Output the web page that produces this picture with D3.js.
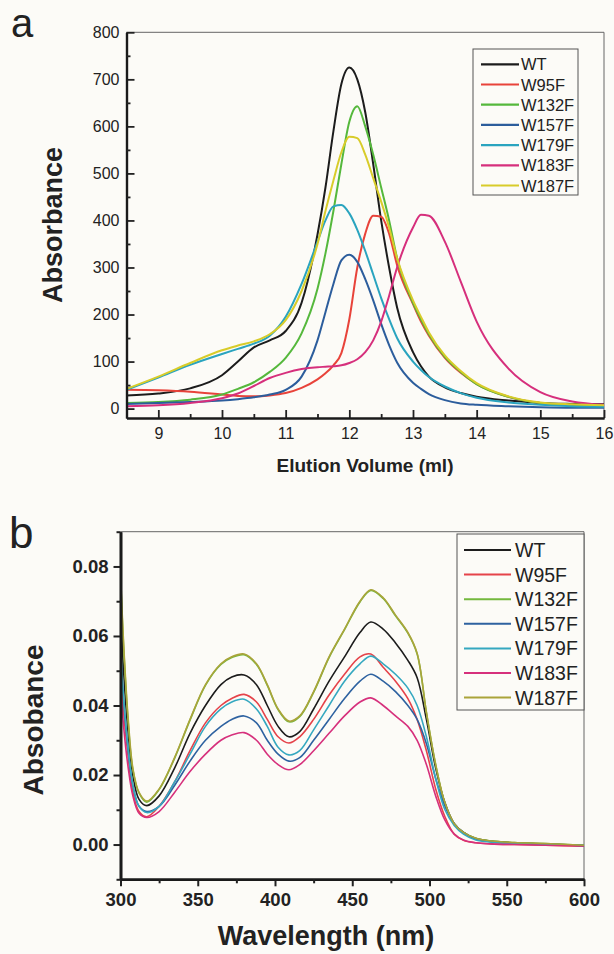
<!DOCTYPE html>
<html>
<head>
<meta charset="utf-8">
<title>SEC and absorbance spectra</title>
<script src="https://cdn.jsdelivr.net/npm/d3@7"></script>
<style>
  body { margin: 0; background: #fcfbf7; }
  text { font-family: "Liberation Sans", Arial, sans-serif; fill: #222; }
  .tick line { stroke: #222; }
</style>
</head>
<body>
<script>
// ---- data ----
var seriesNames = ["WT", "W95F", "W132F", "W157F", "W179F", "W183F", "W187F"];
var colorsA = ["#1c1c1c", "#e8433a", "#55b83c", "#2c5d9c", "#2aa4bf", "#d62f7c", "#d8cc2a"];
var colorsB = ["#1c1c1c", "#e5434a", "#74b83e", "#2e62a0", "#35a8c0", "#d6307c", "#aaa43a"];

// panel a: elution volume (ml)
var elutionVol = [8.5, 9, 9.5, 10, 10.25, 10.5, 10.75, 11, 11.25, 11.5, 11.625, 11.75, 11.875, 12, 12.125,
  12.25, 12.375, 12.5, 12.625, 12.75, 13, 13.125, 13.25, 13.5, 13.75, 14, 14.5, 15, 15.5, 16];
var secWT    = [28, 32, 43, 71, 100, 130, 145, 165, 225, 370, 470, 590, 690, 725, 700, 630, 520, 400, 300, 215, 120, 90, 68, 45, 33, 25, 17, 12, 10, 9];
var secW95F  = [40, 39, 36, 30, 27, 26, 28, 33, 44, 62, 75, 92, 118, 190, 300, 372, 410, 408, 372, 305, 222, 185, 155, 108, 76, 52, 25, 12, 7, 5];
var secW132F = [12, 14, 19, 30, 42, 56, 78, 108, 160, 255, 330, 420, 520, 610, 643, 600, 540, 470, 400, 320, 225, 190, 158, 110, 78, 52, 25, 12, 8, 6];
var secW157F = [10, 12, 14, 17, 20, 24, 30, 40, 68, 145, 205, 265, 315, 327, 312, 275, 230, 180, 135, 98, 55, 42, 31, 18, 11, 8, 5, 3, 2, 2];
var secW179F = [40, 66, 93, 116, 127, 138, 155, 195, 265, 355, 400, 430, 433, 415, 380, 335, 285, 235, 190, 150, 100, 82, 67, 47, 33, 23, 13, 8, 5, 4];
var secW183F = [5, 7, 12, 22, 32, 48, 65, 76, 84, 88, 89, 90, 92, 97, 105, 120, 145, 185, 240, 300, 385, 412, 410, 355, 270, 185, 85, 35, 15, 8];
var secW187F = [42, 68, 97, 124, 134, 143, 158, 188, 250, 350, 420, 485, 545, 578, 575, 540, 490, 440, 385, 320, 230, 195, 162, 113, 80, 54, 26, 13, 9, 7];

// panel b: wavelength (nm)
var wavelength = [300, 302, 305, 308, 312, 317, 325, 335, 345, 355, 365, 372, 380, 388, 395, 402, 409, 416, 425,
  435, 445, 455, 462, 470, 478, 486, 492, 498, 504, 510, 516, 522, 530, 540, 555, 575, 600];
var absWT    = [0.070, 0.050, 0.032, 0.020, 0.013, 0.0112, 0.014, 0.022, 0.032, 0.040, 0.046, 0.0482, 0.0488, 0.046, 0.040, 0.034, 0.031, 0.0325, 0.039,
  0.047, 0.054, 0.061, 0.064, 0.062, 0.058, 0.053, 0.048, 0.036, 0.022, 0.012, 0.006, 0.0035, 0.0017, 0.001, 0.0005, 0.0002, -0.0003];
var absW95F  = [0.050, 0.038, 0.025, 0.015, 0.0095, 0.008, 0.011, 0.018, 0.027, 0.035, 0.040, 0.042, 0.0432, 0.041, 0.036, 0.031, 0.0292, 0.031, 0.036,
  0.043, 0.049, 0.054, 0.0548, 0.051, 0.047, 0.042, 0.036, 0.027, 0.016, 0.008, 0.003, 0.0012, 0.0005, 0.0002, 0.0, -0.0002, -0.0005];
var absW132F = [0.077, 0.057, 0.035, 0.0215, 0.0148, 0.0122, 0.0158, 0.0248, 0.0358, 0.0458, 0.0518, 0.0538, 0.0546, 0.0518, 0.0458, 0.0388, 0.0353, 0.0368, 0.0438,
  0.0538, 0.0618, 0.0698, 0.0731, 0.0708, 0.0658, 0.0608, 0.0548, 0.038, 0.023, 0.0118, 0.006, 0.0035, 0.0018, 0.001, 0.0006, 0.0003, -0.0002];
var absW157F = [0.058, 0.042, 0.027, 0.017, 0.011, 0.0095, 0.011, 0.017, 0.024, 0.030, 0.034, 0.036, 0.037, 0.035, 0.030, 0.026, 0.024, 0.025, 0.030,
  0.036, 0.042, 0.047, 0.049, 0.047, 0.044, 0.040, 0.036, 0.029, 0.019, 0.011, 0.006, 0.0035, 0.0016, 0.0008, 0.0003, 0.0001, -0.0003];
var absW179F = [0.056, 0.042, 0.027, 0.017, 0.011, 0.0092, 0.011, 0.018, 0.026, 0.034, 0.039, 0.041, 0.0418, 0.039, 0.034, 0.028, 0.0258, 0.027, 0.033,
  0.040, 0.047, 0.052, 0.0542, 0.052, 0.049, 0.045, 0.040, 0.031, 0.019, 0.010, 0.0055, 0.003, 0.0013, 0.0007, 0.0003, 0.0001, -0.0003];
var absW183F = [0.046, 0.034, 0.022, 0.014, 0.009, 0.0078, 0.0095, 0.015, 0.021, 0.026, 0.030, 0.0315, 0.0322, 0.030, 0.026, 0.023, 0.0215, 0.023, 0.027,
  0.032, 0.037, 0.041, 0.0422, 0.040, 0.037, 0.034, 0.030, 0.023, 0.014, 0.007, 0.003, 0.0013, 0.0005, 0.0002, 0.0, -0.0002, -0.0004];
var absW187F = [0.078, 0.058, 0.036, 0.022, 0.015, 0.0125, 0.016, 0.025, 0.036, 0.046, 0.052, 0.054, 0.0548, 0.052, 0.046, 0.039, 0.0355, 0.037, 0.044,
  0.054, 0.062, 0.070, 0.0733, 0.071, 0.066, 0.061, 0.055, 0.038, 0.023, 0.012, 0.006, 0.0035, 0.0018, 0.001, 0.0006, 0.0003, -0.0002];

var xTicksA = [9, 10, 11, 12, 13, 14, 15, 16];
var yTicksA = [0, 100, 200, 300, 400, 500, 600, 700, 800];
var xTicksB = [300, 350, 400, 450, 500, 550, 600];
var yTicksB = [0, 0.02, 0.04, 0.06, 0.08];

var W = 614, H = 954;
var svg = d3.select("body").append("svg").attr("width", W).attr("height", H);
svg.append("rect").attr("width", W).attr("height", H).attr("fill", "#fcfbf7");

// ---------------- panel a ----------------
var xa = d3.scaleLinear().domain([8.5, 16]).range([126.5, 604]);
var ya = d3.scaleLinear().domain([-20, 800]).range([418, 32.3]);
var ga = svg.append("g");

var secData = [secWT, secW95F, secW132F, secW157F, secW179F, secW183F, secW187F];
var lineA = d3.line().curve(d3.curveMonotoneX)
  .x(function(d, i) { return xa(elutionVol[i]); })
  .y(function(d) { return ya(d); });

// frame top/right
ga.append("path").attr("d", "M" + xa(8.5) + "," + ya(800) + "H" + xa(16) + "V" + ya(-20))
  .attr("fill", "none").attr("stroke", "#666").attr("stroke-width", 1);

svg.append("clipPath").attr("id", "clipA").append("rect")
  .attr("x", xa(8.5)).attr("y", ya(800)).attr("width", xa(16) - xa(8.5)).attr("height", ya(-20) - ya(800));

ga.append("g").attr("clip-path", "url(#clipA)").selectAll("path.s")
  .data(secData).enter().append("path")
  .attr("class", "s")
  .attr("d", lineA)
  .attr("fill", "none")
  .attr("stroke", function(d, i) { return colorsA[i]; })
  .attr("stroke-width", 2);

// axes a (ticks inward)
ga.append("g").attr("transform", "translate(0," + ya(-20) + ")")
  .call(d3.axisBottom(xa).tickValues(xTicksA).tickFormat(d3.format("d")).tickSize(-8).tickSizeOuter(0).tickPadding(10));
ga.append("g").attr("transform", "translate(0," + ya(-20) + ")")
  .call(d3.axisBottom(xa).tickValues(d3.range(9.5, 16, 1)).tickFormat("").tickSize(-4).tickSizeOuter(0));
ga.append("g").attr("transform", "translate(" + xa(8.5) + ",0)")
  .call(d3.axisLeft(ya).tickValues(yTicksA).tickSize(-8).tickSizeOuter(0).tickPadding(7));
ga.append("g").attr("transform", "translate(" + xa(8.5) + ",0)")
  .call(d3.axisLeft(ya).tickValues(d3.range(50, 800, 100)).tickFormat("").tickSize(-4).tickSizeOuter(0));
ga.selectAll(".domain").attr("stroke", "#1a1a1a").attr("stroke-width", 2.2);
ga.selectAll(".tick line").attr("stroke-width", 1.8);
ga.selectAll(".tick text").style("font-size", "16px").attr("fill", "#222");

ga.append("text").attr("x", 365).attr("y", 472).attr("text-anchor", "middle")
  .style("font-size", "19px").style("font-weight", "bold").text("Elution Volume (ml)");
ga.append("text").attr("transform", "translate(62,225) rotate(-90)").attr("text-anchor", "middle")
  .style("font-size", "27px").style("font-weight", "bold").text("Absorbance");
svg.append("text").attr("x", 11).attr("y", 37).style("font-size", "40px").text("a");

// legend a
var legA = ga.append("g");
legA.append("rect").attr("x", 473).attr("y", 49).attr("width", 105).attr("height", 146)
  .attr("fill", "none").attr("stroke", "#555").attr("stroke-width", 1);
seriesNames.forEach(function(n, i) {
  var yy = 64.3 + i * 20.2;
  legA.append("line").attr("x1", 481).attr("x2", 519).attr("y1", yy).attr("y2", yy)
    .attr("stroke", colorsA[i]).attr("stroke-width", 2.2);
  legA.append("text").attr("x", 521).attr("y", yy + 6).style("font-size", "16.5px").text(n);
});

// ---------------- panel b ----------------
var xb = d3.scaleLinear().domain([300, 600]).range([120.5, 584]);
var yb = d3.scaleLinear().domain([-0.01, 0.09]).range([879.3, 531.7]);
var gb = svg.append("g");
var absData = [absWT, absW95F, absW132F, absW157F, absW179F, absW183F, absW187F];
var lineB = d3.line().curve(d3.curveCatmullRom)
  .x(function(d, i) { return xb(wavelength[i]); })
  .y(function(d) { return yb(d); });

gb.append("path").attr("d", "M" + xb(300) + "," + yb(0.09) + "H" + xb(600) + "V" + yb(-0.01))
  .attr("fill", "none").attr("stroke", "#666").attr("stroke-width", 1);

svg.append("clipPath").attr("id", "clipB").append("rect")
  .attr("x", xb(300)).attr("y", yb(0.09)).attr("width", xb(600) - xb(300)).attr("height", yb(-0.01) - yb(0.09));

gb.append("g").attr("clip-path", "url(#clipB)").selectAll("path.s")
  .data(absData).enter().append("path")
  .attr("class", "s")
  .attr("d", lineB)
  .attr("fill", "none")
  .attr("stroke", function(d, i) { return colorsB[i]; })
  .attr("stroke-width", 1.6);

// axes b (ticks outward)
gb.append("g").attr("transform", "translate(0," + yb(-0.01) + ")")
  .call(d3.axisBottom(xb).tickValues(xTicksB).tickSize(7).tickSizeOuter(0).tickPadding(7));
gb.append("g").attr("transform", "translate(0," + yb(-0.01) + ")")
  .call(d3.axisBottom(xb).tickValues(d3.range(325, 600, 50)).tickFormat("").tickSize(4).tickSizeOuter(0));
gb.append("g").attr("transform", "translate(" + xb(300) + ",0)")
  .call(d3.axisLeft(yb).tickValues(yTicksB).tickFormat(d3.format(".2f")).tickSize(7).tickSizeOuter(0).tickPadding(5));
gb.append("g").attr("transform", "translate(" + xb(300) + ",0)")
  .call(d3.axisLeft(yb).tickValues([-0.01, 0.01, 0.03, 0.05, 0.07, 0.09]).tickFormat("").tickSize(4).tickSizeOuter(0));
gb.selectAll(".domain").attr("stroke", "#1a1a1a").attr("stroke-width", 2.6);
gb.selectAll(".tick line").attr("stroke-width", 2);
gb.selectAll(".tick text").style("font-size", "18.5px").style("font-weight", "bold").attr("fill", "#222");

gb.append("text").attr("x", 326).attr("y", 945).attr("text-anchor", "middle")
  .style("font-size", "27px").style("font-weight", "bold").text("Wavelength (nm)");
gb.append("text").attr("transform", "translate(43,720) rotate(-90)").attr("text-anchor", "middle")
  .style("font-size", "28px").style("font-weight", "bold").text("Absobance");
svg.append("text").attr("x", 9).attr("y", 548).style("font-size", "44px").text("b");

// legend b
var legB = gb.append("g");
legB.append("rect").attr("x", 457).attr("y", 534).attr("width", 127).attr("height", 176)
  .attr("fill", "#fcfbf7").attr("stroke", "#555").attr("stroke-width", 1);
seriesNames.forEach(function(n, i) {
  var yy = 550 + i * 24.6;
  legB.append("line").attr("x1", 464).attr("x2", 511).attr("y1", yy).attr("y2", yy)
    .attr("stroke", colorsB[i]).attr("stroke-width", 2);
  legB.append("text").attr("x", 515).attr("y", yy + 7).style("font-size", "19.5px").text(n);
});
</script>
</body>
</html>
